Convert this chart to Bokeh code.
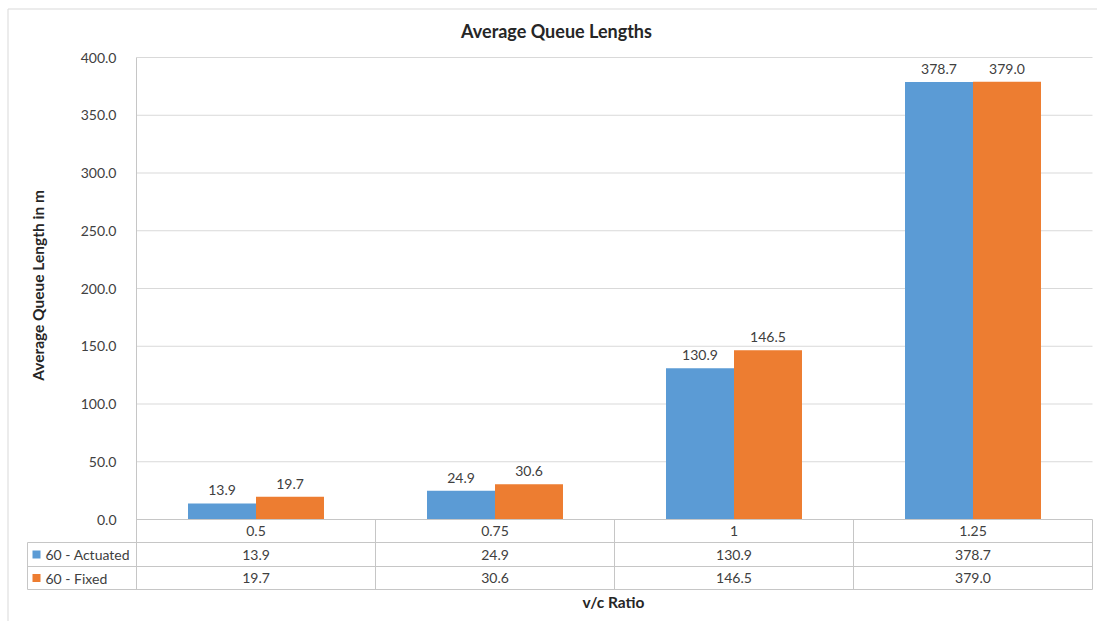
import math
from bokeh.plotting import figure
from bokeh.models import Range1d, FixedTicker, NumeralTickFormatter, ColumnDataSource
from bokeh.core.properties import value
from bokeh.embed import file_html
from bokeh.resources import INLINE

# ---------------- data ----------------
categories = ["0.5", "0.75", "1", "1.25"]
series_names = ["60 - Actuated", "60 - Fixed"]
actuated = [13.9, 24.9, 130.9, 378.7]
fixed = [19.7, 30.6, 146.5, 379.0]
y_ticks = [0, 50, 100, 150, 200, 250, 300, 350, 400]
colors = ["#5B9BD5", "#ED7D31"]
title_text = "Average Queue Lengths"
y_title = "Average Queue Length in m"
x_title = "v/c Ratio"

series_values = [actuated, fixed]

FONT = "Lato"
TXT = "#404040"
DARK = "#262626"
GRID = "#D9D9D9"
LINE = "#C6C6C6"

# ---------------- layout (pixel positions in the picture) ----------------
W, H = 1097, 621
PLOT_L, PLOT_R = 136, 1092      # plot area left / right
PLOT_T, ZERO = 57, 519          # top (max tick) and zero line
ROW_Y = [519, 542, 566, 589]    # table row boundaries
TABLE_L = 27
ncat = len(categories)
ymax = y_ticks[-1]
cat_px = (PLOT_R - PLOT_L) / ncat
unit_px = (ZERO - PLOT_T) / ymax


def xdata(px):
    return (px - PLOT_L) / cat_px


def ydata(px):
    return (ZERO - px) / unit_px


row_edges = [ydata(v) for v in ROW_Y]
row_centers = [(row_edges[i] + row_edges[i + 1]) / 2 for i in range(3)]

p = figure(width=W, height=H, output_backend="svg", toolbar_location=None,
           x_range=Range1d(xdata(0), xdata(W)), y_range=Range1d(ydata(H), ydata(0)),
           min_border_left=0, min_border_right=0, min_border_top=0,
           min_border_bottom=0)
p.outline_line_color = None
p.background_fill_color = "white"
p.border_fill_color = "white"
p.xaxis.visible = False
p.xgrid.visible = False
p.ygrid.visible = False

# y axis drawn at the plot-area left edge
p.yaxis.fixed_location = 0
p.yaxis.ticker = FixedTicker(ticks=y_ticks)
p.yaxis.formatter = NumeralTickFormatter(format="0.0")
p.yaxis.axis_line_color = None
p.yaxis.major_tick_line_color = None
p.yaxis.minor_tick_line_color = None
p.yaxis.major_label_standoff = 14
p.yaxis.major_label_text_font = FONT
p.yaxis.major_label_text_font_size = "14px"
p.yaxis.major_label_text_color = TXT

# horizontal gridlines inside the plot area only
grid_ticks = y_ticks[1:]
p.segment(x0=[0] * len(grid_ticks), y0=grid_ticks, x1=[ncat] * len(grid_ticks),
          y1=grid_ticks, line_color=GRID, line_width=1)

# outer chart border (left and top edges)
p.segment(x0=[xdata(7.5), xdata(7.5)], y0=[ydata(8.5), ydata(8.5)],
          x1=[xdata(7.5), xdata(W + 5)], y1=[ydata(H + 5), ydata(8.5)],
          line_color=GRID, line_width=1)

# titles
p.text(x=[xdata(556)], y=[ydata(30)], text=[title_text], text_align="center",
       text_baseline="middle", text_font=value(FONT), text_font_size="18px",
       text_font_style="bold", text_color=DARK)
p.text(x=[xdata(37)], y=[ydata(285)], text=[y_title], angle=math.pi / 2,
       text_align="center", text_baseline="middle", text_font=value(FONT),
       text_font_size="15.5px", text_font_style="bold", text_color=DARK)
p.text(x=[xdata(613)], y=[ydata(601)], text=[x_title], text_align="center",
       text_baseline="middle", text_font=value(FONT), text_font_size="15.5px",
       text_font_style="bold", text_color=DARK)

# ---------------- bars ----------------
bar_w = 0.2845
for s, (vals, col) in enumerate(zip(series_values, colors)):
    xs = [i + 0.5 + (s - 0.5) * bar_w for i in range(ncat)]
    src = ColumnDataSource(dict(x=xs, top=vals, lab=[f"{v:.1f}" for v in vals]))
    p.vbar(x="x", top="top", bottom=0, width=bar_w, source=src,
           fill_color=col, line_color=None)
    p.text(x="x", y="top", text="lab", source=src, text_align="center",
           text_baseline="bottom", y_offset=-8, text_font=value(FONT),
           text_font_size="14px", text_color=TXT)

# ---------------- data table ----------------
# plot-area left border and category separators
vx = list(range(0, ncat + 1))
vtop = [ymax] + [0] * ncat
p.segment(x0=vx, y0=vtop, x1=vx, y1=[row_edges[-1]] * len(vx),
          line_color=LINE, line_width=1)
# legend column left border
p.segment(x0=[xdata(TABLE_L)], y0=[row_edges[1]], x1=[xdata(TABLE_L)],
          y1=[row_edges[-1]], line_color=LINE, line_width=1)
# horizontal rules
hx0 = [0] + [xdata(TABLE_L)] * 3
p.segment(x0=hx0, y0=row_edges, x1=[ncat] * 4, y1=row_edges,
          line_color=LINE, line_width=1)

rows = [categories] + [[f"{v:.1f}" for v in vals] for vals in series_values]
for r, row in enumerate(rows):
    p.text(x=[i + 0.5 for i in range(ncat)], y=[row_centers[r]] * ncat, text=row,
           text_align="center", text_baseline="middle", text_font=value(FONT),
           text_font_size="14px", text_color=TXT)

# legend keys and names in the table
key_half = 4 / unit_px
leg_y = row_centers[1:]
p.quad(left=[xdata(32)] * 2, right=[xdata(40)] * 2,
       top=[y + key_half for y in leg_y], bottom=[y - key_half for y in leg_y],
       fill_color=colors, line_color=None)
p.text(x=[xdata(45)] * 2, y=leg_y, text=series_names, text_align="left",
       text_baseline="middle", text_font=value(FONT), text_font_size="14px",
       text_color=TXT)

open("out.html", "w").write(file_html(p, INLINE))
